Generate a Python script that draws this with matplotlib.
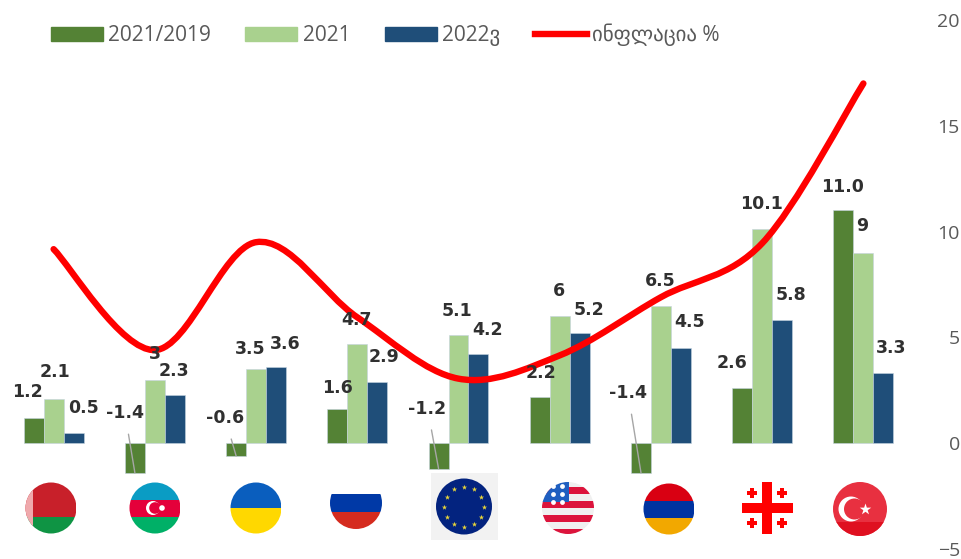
import matplotlib
matplotlib.use('Agg')
import matplotlib.pyplot as plt
import numpy as np
from matplotlib.patches import Circle, Rectangle, PathPatch
from matplotlib.path import Path
from matplotlib.lines import Line2D

plt.rcParams['font.family'] = ['Open Sans', 'DejaVu Sans']

# values
countries = ['Belarus', 'Azerbaijan', 'Ukraine', 'Russia', 'EU', 'USA', 'Armenia', 'Georgia', 'Turkey']
growth_2021_2019 = [1.2, -1.4, -0.6, 1.6, -1.2, 2.2, -1.4, 2.6, 11.0]
growth_2021 = [2.1, 3, 3.5, 4.7, 5.1, 6, 6.5, 10.1, 9]
growth_2022 = [0.5, 2.3, 3.6, 2.9, 4.2, 5.2, 4.5, 5.8, 3.3]
inflation = [9.17, 4.4, 9.5, 5.95, 3.05, 4.15, 6.9, 9.45, 17.0]

labels_a = ['1.2', '-1.4', '-0.6', '1.6', '-1.2', '2.2', '-1.4', '2.6', '11.0']
labels_b = ['2.1', '3', '3.5', '4.7', '5.1', '6', '6.5', '10.1', '9']
labels_c = ['0.5', '2.3', '3.6', '2.9', '4.2', '5.2', '4.5', '5.8', '3.3']

series_names = ['2021/2019', '2021', '2022ვ', 'ინფლაცია %']
y_ticks = [-5, 0, 5, 10, 15, 20]

# label offsets in pixels, from the end of each bar
offs_a = [(-6, 26), (-10, 60), (-11, 38), (0, 21), (-11, 60), (1, 24), (-13, 80), (-10, 25), (-1, 23)]
offs_b = [(1, 27), (0, 26), (-6, 20), (-1, 24), (-1, 24), (-1, 25), (-1, 25), (-1, 25), (-1, 27)]
offs_c = [(10, 25), (-1, 24), (9, 23), (7, 25), (9, 24), (9, 23), (9, 26), (9, 25), (8, 25)]

GREEN = '#548235'
LIGHT = '#A9D18E'
BLUE = '#1F4E79'
RED = '#FF0000'
GREY = '#595959'
DARK = '#303030'

fig = plt.figure(figsize=(9.62, 5.59), dpi=100)
ax = fig.add_axes([3 / 962, 1 - 549 / 559, 911 / 962, 529 / 559])

x = np.arange(len(countries))
w = 0.197
ax.bar(x - w, growth_2021_2019, w, color=GREEN, edgecolor='#c5d3e0', linewidth=0.4)
ax.bar(x, growth_2021, w, color=LIGHT, edgecolor='#c5d3e0', linewidth=0.4)
ax.bar(x + w, growth_2022, w, color=BLUE, edgecolor='#c5d3e0', linewidth=0.4)

# smoothed line, bezier segments through the values
verts = [(x[0], inflation[0])]
codes = [Path.MOVETO]
n = len(x)
for i in range(n - 1):
    p0 = np.array([x[max(i - 1, 0)], inflation[max(i - 1, 0)]])
    p1 = np.array([x[i], inflation[i]])
    p2 = np.array([x[i + 1], inflation[i + 1]])
    p3 = np.array([x[min(i + 2, n - 1)], inflation[min(i + 2, n - 1)]])
    verts += [tuple(p1 + (p2 - p0) / 6), tuple(p2 - (p3 - p1) / 6), tuple(p2)]
    codes += [Path.CURVE4] * 3
ax.add_patch(PathPatch(Path(verts, codes), fill=False, edgecolor=RED, linewidth=4.6,
                       capstyle='round', zorder=3))

for offs, labels, vals, shift in [(offs_a, labels_a, growth_2021_2019, -w),
                                  (offs_b, labels_b, growth_2021, 0),
                                  (offs_c, labels_c, growth_2022, w)]:
    for i, lab in enumerate(labels):
        arrow = None
        if vals[i] < 0:
            arrow = dict(arrowstyle='-', color='#a6a6a6', lw=1, shrinkA=7, shrinkB=0)
        ax.annotate(lab, (x[i] + shift, vals[i]), xytext=offs[i], textcoords='offset pixels',
                    ha='center', va='center', fontsize=12.5, fontweight='bold', color=DARK,
                    family='DejaVu Sans', arrowprops=arrow, zorder=4)

ax.set_xlim(-0.5, n - 0.5)
ax.set_ylim(-5, 20)
ax.set_xticks([])
ax.set_yticks(y_ticks)
ax.yaxis.tick_right()
ax.tick_params(axis='y', length=0, pad=33, labelsize=14, labelcolor=GREY)
for t in ax.get_yticklabels():
    t.set_ha('right')
for s in ax.spines.values():
    s.set_visible(False)
ax.patch.set_alpha(0)

handles = [Rectangle((0, 0), 1, 1, color=GREEN), Rectangle((0, 0), 1, 1, color=LIGHT),
           Rectangle((0, 0), 1, 1, color=BLUE), Line2D([0], [0], color=RED, lw=4.6)]
fig.legend(handles, series_names, ncol=4, frameon=False, fontsize=15, labelcolor=GREY,
           loc='center left', bbox_to_anchor=(32 / 962, 1 - 35 / 559),
           handlelength=2.5, handleheight=0.6, handletextpad=0.25, columnspacing=1.65)

# flags, drawn in pixel coordinates on an overlay
fl = fig.add_axes([0, 0, 1, 1])
fl.set_xlim(0, 962)
fl.set_ylim(559, 0)
fl.axis('off')
fl.patch.set_alpha(0)


def clipped(patch, cx, cy, r):
    fl.add_patch(patch)
    patch.set_clip_path(Circle((cx, cy), r, transform=fl.transData))


def stripes(cx, cy, r, bands):
    for y0, y1, col in bands:
        clipped(Rectangle((cx - r, y0), 2 * r, y1 - y0, color=col, lw=0), cx, cy, r)


def crescent(cx, cy, r_out, r_in, dx, col, bg):
    fl.add_patch(Circle((cx, cy), r_out, color=col, lw=0))
    fl.add_patch(Circle((cx + dx, cy), r_in, color=bg, lw=0))


# Belarus
stripes(51, 508, 25.5, [(482, 517, '#C8202A'), (517, 534, '#0F9444')])
clipped(Rectangle((25, 482), 8, 52, color='#EFA9AC', lw=0), 51, 508, 25.5)
# Azerbaijan
stripes(155, 508, 25.5, [(482, 500, '#0A9CC4'), (500, 517, '#E4003A'), (517, 534, '#00B067')])
crescent(153, 508, 7, 5.8, 2, 'white', '#E4003A')
fl.add_patch(Circle((162, 508), 2.8, color='white', lw=0))
# Ukraine
stripes(256, 508, 25.5, [(482, 508, '#0A5EBE'), (508, 534, '#FFD800')])
# Russia
stripes(356, 503, 26, [(494, 512, '#0039A6'), (512, 530, '#D52B1E')])
# EU
fl.add_patch(Rectangle((431, 473), 67, 67, color='#F2F2F2', lw=0))
fl.add_patch(Circle((464, 506.5), 28, color='#03237F', lw=0))
ang = np.deg2rad(np.arange(0, 360, 30))
fl.scatter(464 + 20 * np.cos(ang), 506.5 + 20 * np.sin(ang), s=16, marker='*', color='#E8D53A', lw=0)
# USA
fl.add_patch(Circle((568, 508), 26, color='#F0F0F0', lw=0))
stripes(568, 508, 26, [(y, y + 7, '#DC143C') for y in (487, 501, 515, 529)])
clipped(Rectangle((542, 482), 27, 19.5, color='#1F5FC0', lw=0), 568, 508, 26)
fl.scatter([553, 562, 553, 562, 553, 562], [486, 486, 494, 494, 502, 502], s=12, color='white', lw=0)
# Armenia
stripes(669, 509, 25.5, [(483, 501, '#D90012'), (501, 518, '#0033A0'), (518, 535, '#F2A800')])
# Georgia
fl.add_patch(Rectangle((762, 482), 10, 52, color=RED, lw=0))
fl.add_patch(Rectangle((742, 503), 51, 10, color=RED, lw=0))
for dx in (-15, 15):
    for dy in (-15, 15):
        fl.add_patch(Rectangle((767 + dx - 5, 508 + dy - 1.7), 10, 3.4, color=RED, lw=0))
        fl.add_patch(Rectangle((767 + dx - 1.7, 508 + dy - 5), 3.4, 10, color=RED, lw=0))
# Turkey
fl.add_patch(Circle((860, 509), 27, color='#E83040', lw=0))
stripes(860, 509, 27, [(522, 537, '#DF1020')])
crescent(851, 509, 12.5, 10.5, 3.5, 'white', '#E83040')
fl.scatter([865], [509], s=75, marker='*', color='white', lw=0)

fig.savefig('out.png', dpi=100)
